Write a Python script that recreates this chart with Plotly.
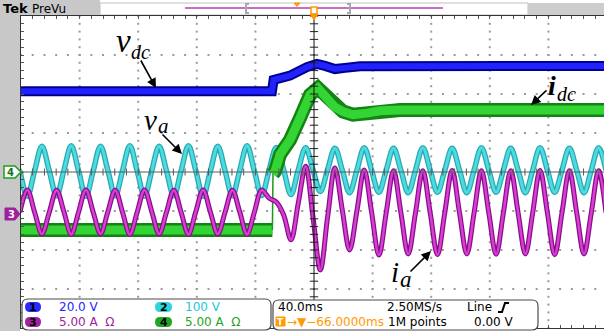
import numpy as np
import plotly.graph_objects as go

# ---------------- readout settings ----------------
CH1_SCALE = "20.0 V"
CH2_SCALE = "100 V"
CH3_SCALE = "5.00 A\u00a0\u00a0\u03a9"
CH4_SCALE = "5.00 A\u00a0\u00a0\u03a9"
TIMEBASE = "40.0ms"
SAMPLE_RATE = "2.50MS/s"
TRIG_SOURCE = "Line"
TRIG_POS = "\u2192\u25bc\u221266.0000ms"
RECORD = "1M points"
TRIG_LEVEL = "0.00 V"

# ---------------- waveforms ----------------
# vertical positions in screen divisions, time in ms from screen centre (40 ms/div)
# ac traces: one sample every quarter cycle of the 50 Hz line
T_START = -200.7
T_STEP = 5.0

va_div = [
    0.03, -0.62, 0.03, 0.66,
    0.03, -0.61, 0.04, 0.67,
    0.03, -0.62, 0.03, 0.66,
    0.04, -0.61, 0.03, 0.67,
    0.03, -0.62, 0.04, 0.66,
    0.03, -0.61, 0.03, 0.67,
    0.04, -0.62, 0.03, 0.66,
    0.03, -0.61, 0.04, 0.67,
    0.03, -0.60, 0.04, 0.63,
    0.05, -0.58, 0.06, 0.62,
    0.06, -0.50, 0.06, 0.61,
    0.05, -0.53, 0.05, 0.62,
    0.05, -0.52, 0.05, 0.61,
    0.05, -0.53, 0.05, 0.62,
    0.05, -0.52, 0.05, 0.61,
    0.05, -0.53, 0.05, 0.62,
    0.05, -0.52, 0.05, 0.61,
    0.05, -0.53, 0.05, 0.62,
    0.05, -0.52, 0.05, 0.61,
    0.05, -0.53, 0.05, 0.62,
    0.05,
]

ia_div = [
    -1.03, -0.46, -1.03, -1.59,
    -1.03, -0.47, -1.02, -1.60,
    -1.03, -0.46, -1.03, -1.59,
    -1.02, -0.47, -1.03, -1.60,
    -1.03, -0.46, -1.02, -1.59,
    -1.03, -0.47, -1.03, -1.60,
    -1.02, -0.46, -1.03, -1.59,
    -1.03, -0.47, -1.02, -1.60,
    -1.03, -0.46, -0.67, -0.77,
    -1.10, -1.74, -0.79, 0.15,
    -1.15, -2.51, -1.15, 0.10,
    -0.97, -2.00, -1.00, 0.05,
    -1.03, -2.13, -1.04, 0.03,
    -1.04, -2.10, -1.04, 0.03,
    -1.04, -2.12, -1.04, 0.04,
    -1.04, -2.10, -1.04, 0.03,
    -1.04, -2.11, -1.04, 0.03,
    -1.04, -2.10, -1.04, 0.04,
    -1.04, -2.12, -1.04, 0.03,
    -1.04, -2.10, -1.04, 0.03,
    -1.04,
]

vdc_t = [-200.7, -28.7, -27.6, -16.4, -4.8, 2.0, 7.5, 14.3, 21.2, 31.4, 199.3]
vdc_div = [2.07, 2.07, 2.36, 2.47, 2.69, 2.77, 2.72, 2.64, 2.67, 2.71, 2.72]

idc_t = [-200.7, -28.4, -28.0, -26.6, -23.2, -16.4, -9.6, -2.7, 2.7, 9.6,
         14.3, 19.8, 26.6, 36.2, 45.1, 58.7, 199.3]
idc_div = [-1.49, -1.49, -0.05, 0.02, 0.45, 0.82, 1.38, 1.98, 2.15, 1.90,
           1.66, 1.55, 1.47, 1.51, 1.57, 1.59, 1.59]

t_ac = T_START + T_STEP * np.arange(len(va_div))

# ---------------- screen geometry ----------------
W, H = 604, 331
PL, PT, PB = 21, 16, 3          # plot-area margins in px
PW, PH = W - PL, H - PT - PB     # 583 x 312
T_LEFT = -200.0
MS_PER_PX = 40.0 / 58.6
T_RIGHT = T_LEFT + PW * MS_PER_PX


def xp(px):
    return (px - PL) / PW


def yp(py):
    return (PT + PH - py) / PH


def pt(px, py):
    return f"{xp(px):.5f},{yp(py):.5f}"


def rrect(x0, y0, x1, y1, r):
    return (f"M {pt(x0 + r, y0)} L {pt(x1 - r, y0)} Q {pt(x1, y0)} {pt(x1, y0 + r)} "
            f"L {pt(x1, y1 - r)} Q {pt(x1, y1)} {pt(x1 - r, y1)} "
            f"L {pt(x0 + r, y1)} Q {pt(x0, y1)} {pt(x0, y1 - r)} "
            f"L {pt(x0, y0 + r)} Q {pt(x0, y0)} {pt(x0 + r, y0)} Z")


def poly(points):
    return "M " + " L ".join(pt(a, b) for a, b in points) + " Z"


fig = go.Figure()

# graticule dots
dot_t, dot_v = [], []
for k in range(1, 10):
    tt = T_LEFT + 40 * k
    if abs(tt) < 1e-9:
        continue
    for m in range(-20, 21):
        dot_t.append(tt)
        dot_v.append(m * 0.2)
for d in (-3, -2, -1, 1, 2, 3):
    for m in range(-25, 25):
        dot_t.append(m * 8)
        dot_v.append(d)
fig.add_trace(go.Scatter(x=dot_t, y=dot_v, mode="markers",
                         marker=dict(symbol="square", size=2, color="#9a9a9a", line=dict(width=0)),
                         hoverinfo="skip", showlegend=False))


def line_trace(x, y, color, width, shape="linear"):
    ln = dict(color=color, width=width, shape=shape)
    if shape == "spline":
        ln["smoothing"] = 1.0
    fig.add_trace(go.Scatter(x=x, y=y, mode="lines", line=ln,
                             hoverinfo="skip", showlegend=False))


# channel 2: va (cyan)
line_trace(t_ac, va_div, "#2aa8b2", 5.5, "spline")
line_trace(t_ac, va_div, "#4cdce0", 3, "spline")

# channel 4: idc (green) - before step, step edge, after step
line_trace(idc_t[:2], idc_div[:2], "#138413", 14)
line_trace(idc_t[:2], idc_div[:2], "#33d433", 9)
line_trace(idc_t[1:3], idc_div[1:3], "#1a9a1a", 1.5)
line_trace(idc_t[2:], idc_div[2:], "#138413", 14)
line_trace(idc_t[2:], idc_div[2:], "#33d433", 9)

# channel 3: ia (magenta)
line_trace(t_ac, ia_div, "#860f86", 5, "spline")
line_trace(t_ac, ia_div, "#d83ed6", 2.5, "spline")

# channel 1: vdc (blue)
line_trace(vdc_t, vdc_div, "#000090", 10)
line_trace(vdc_t, vdc_div, "#2222ff", 6)

# tick marks along the centre cross
fig.add_trace(go.Scatter(x=[0.0] * 41, y=[m * 0.2 for m in range(-20, 21)], mode="markers",
                         marker=dict(symbol="line-ew", size=6, line=dict(width=1, color="#222")),
                         hoverinfo="skip", showlegend=False))
fig.add_trace(go.Scatter(x=[m * 8 for m in range(-25, 25)], y=[0.0] * 50, mode="markers",
                         marker=dict(symbol="line-ns", size=5, line=dict(width=1, color="#555")),
                         hoverinfo="skip", showlegend=False))

GRAY = "#c8c8c8"
ORANGE = "#ff9a00"
shapes = [
    # centre cross
    dict(type="line", xref="x", yref="y", x0=0, x1=0, y0=-4, y1=4,
         line=dict(color="#111", width=1), layer="above"),
    dict(type="line", xref="x", yref="y", x0=T_LEFT, x1=T_RIGHT, y0=0, y1=0,
         line=dict(color="#5a5a5a", width=1), layer="above"),
    # side and top frame
    dict(type="rect", xref="paper", yref="paper", x0=xp(0), x1=xp(20), y0=yp(331), y1=yp(0),
         fillcolor=GRAY, line=dict(width=0), layer="above"),
    dict(type="rect", xref="paper", yref="paper", x0=xp(0), x1=xp(100), y0=yp(15), y1=yp(0),
         fillcolor=GRAY, line=dict(width=0), layer="above"),
    dict(type="rect", xref="paper", yref="paper", x0=xp(100), x1=xp(528), y0=yp(15), y1=yp(3),
         fillcolor="white", line=dict(color="#c0c0c0", width=1), layer="above"),
    dict(type="rect", xref="paper", yref="paper", x0=xp(528), x1=xp(604), y0=yp(15), y1=yp(3),
         fillcolor="#cdcdcd", line=dict(width=0), layer="above"),
    dict(type="line", xref="paper", yref="paper", x0=xp(185), x1=xp(443), y0=yp(8), y1=yp(8),
         line=dict(color="#c86ec8", width=2), layer="above"),
    dict(type="path", xref="paper", yref="paper",
         path=f"M {pt(249, 4)} L {pt(246, 4)} L {pt(246, 13)} L {pt(249, 13)}",
         line=dict(color="#a8a8a8", width=2), layer="above"),
    dict(type="path", xref="paper", yref="paper",
         path=f"M {pt(347, 4)} L {pt(350, 4)} L {pt(350, 13)} L {pt(347, 13)}",
         line=dict(color="#a8a8a8", width=2), layer="above"),
    dict(type="path", xref="paper", yref="paper", path=poly([(294, 3), (300, 3), (297, 6.5)]),
         fillcolor=ORANGE, line=dict(color=ORANGE, width=1), layer="above"),
    dict(type="line", xref="paper", yref="paper", x0=xp(20), x1=xp(604), y0=yp(15.5), y1=yp(15.5),
         line=dict(color="#333", width=1), layer="above"),
    # trigger position marker
    dict(type="rect", xref="paper", yref="paper", x0=xp(311), x1=xp(317), y0=yp(14), y1=yp(7),
         fillcolor="white", line=dict(color=ORANGE, width=1.5), layer="above"),
    dict(type="path", xref="paper", yref="paper", path=poly([(310, 14), (318, 14), (314, 20)]),
         fillcolor=ORANGE, line=dict(color=ORANGE, width=1), layer="above"),
    # channel ground markers
    dict(type="path", xref="paper", yref="paper",
         path=poly([(4, 166), (15, 166), (21, 172), (15, 178), (4, 178)]),
         fillcolor="white", line=dict(color="#1e9e1e", width=1.5), layer="above"),
    dict(type="path", xref="paper", yref="paper",
         path=poly([(5, 208), (15, 208), (20, 214), (15, 220), (5, 220)]),
         fillcolor="#a0209e", line=dict(color="#a0209e", width=1), layer="above"),
    # readout boxes
    dict(type="path", xref="paper", yref="paper", path=rrect(22, 299, 271, 330, 6),
         fillcolor="white", line=dict(color="#4a4a4a", width=1.2), layer="above"),
    dict(type="path", xref="paper", yref="paper", path=rrect(273, 300, 538, 330, 6),
         fillcolor="white", line=dict(color="#4a4a4a", width=1.2), layer="above"),
    # channel badges
    dict(type="path", xref="paper", yref="paper", path=rrect(25, 302, 41, 312, 5),
         fillcolor="#2a2aff", line=dict(width=0), layer="above"),
    dict(type="path", xref="paper", yref="paper", path=rrect(155, 302, 172, 312, 5),
         fillcolor="#2fd3dc", line=dict(width=0), layer="above"),
    dict(type="path", xref="paper", yref="paper", path=rrect(25, 317, 41, 327, 5),
         fillcolor="#a0229e", line=dict(width=0), layer="above"),
    dict(type="path", xref="paper", yref="paper", path=rrect(155, 317, 172, 327, 5),
         fillcolor="#22a622", line=dict(width=0), layer="above"),
    # trigger icon and slope glyph
    dict(type="rect", xref="paper", yref="paper", x0=xp(276), x1=xp(285), y0=yp(326), y1=yp(317),
         fillcolor=ORANGE, line=dict(color=ORANGE, width=1), layer="above"),
    dict(type="path", xref="paper", yref="paper",
         path=f"M {pt(498, 312)} L {pt(502, 312)} L {pt(505, 303)} L {pt(509, 303)}",
         line=dict(color="#000", width=2), layer="above"),
]

ann = []


def txt(px, py, text, color="#000", size=12, family="DejaVu Sans", xanchor="left", yanchor="middle"):
    ann.append(dict(x=xp(px), y=yp(py), xref="paper", yref="paper", text=text, showarrow=False,
                    xanchor=xanchor, yanchor=yanchor, borderpad=0,
                    font=dict(color=color, size=size, family=family)))


def arrow(x_tail, y_tail, x_tip, y_tip):
    ann.append(dict(x=xp(x_tip), y=yp(y_tip), xref="paper", yref="paper", text="",
                    showarrow=True, ax=x_tail - x_tip, ay=y_tail - y_tip,
                    arrowhead=2, arrowsize=1.2, arrowwidth=1.6, arrowcolor="#000"))


# header
txt(2, 8, "<b>Tek</b>", size=13)
txt(31, 8.5, "PreVu", size=12)
# channel marker digits
txt(10.5, 172, "<b>4</b>", color="#157515", size=10, xanchor="center")
txt(11, 214, "<b>3</b>", color="white", size=10, xanchor="center")

# readouts
txt(33, 307, "<b>1</b>", color="#000", size=11, xanchor="center")
txt(163.5, 307, "<b>2</b>", color="#000", size=11, xanchor="center")
txt(33, 322, "<b>3</b>", color="#000", size=11, xanchor="center")
txt(163.5, 322, "<b>4</b>", color="#000", size=11, xanchor="center")
txt(58, 307, CH1_SCALE, color="#2424ff")
txt(184, 307, CH2_SCALE, color="#22c8d4")
txt(58, 322, CH3_SCALE, color="#a0229e")
txt(184, 322, CH4_SCALE, color="#22a622")
txt(277, 307, TIMEBASE)
txt(386, 307, SAMPLE_RATE)
txt(466, 307, TRIG_SOURCE)
txt(280.5, 321.5, "<b>T</b>", color="white", size=9, xanchor="center")
txt(286, 322, TRIG_POS, color=ORANGE)
txt(387, 322, RECORD)
txt(473, 322, TRIG_LEVEL)

# signal labels
SERIF = "Liberation Serif"
txt(115, 41, "<i>v</i>", size=33, family=SERIF)
txt(130, 51.5, "<i>dc</i>", size=20, family=SERIF)
arrow(140, 59, 156, 88)
txt(143, 120, "<i>v</i>", size=29, family=SERIF)
txt(157, 126, "<i>a</i>", size=21, family=SERIF)
arrow(161, 133, 182, 154)
txt(547, 85.5, "<b><i>i</i></b>", size=28, family=SERIF)
txt(556, 93.5, "<i>dc</i>", size=20, family=SERIF)
arrow(548, 89, 531, 105)
txt(390, 272, "<i>i</i>", size=29, family=SERIF)
txt(399, 279, "<i>a</i>", size=23, family=SERIF)
arrow(409, 273, 431, 251)

fig.update_layout(
    width=W, height=H,
    margin=dict(l=PL, r=0, t=PT, b=PB, pad=0),
    paper_bgcolor="white", plot_bgcolor="white",
    showlegend=False,
    xaxis=dict(range=[T_LEFT, T_RIGHT], showgrid=False, zeroline=False,
               showline=True, linecolor="#333", linewidth=1, mirror="ticks",
               ticks="inside", tickvals=[T_LEFT + 8 * i for i in range(50)],
               ticklen=3, tickcolor="#555", showticklabels=False, fixedrange=True),
    yaxis=dict(range=[-4, 4], showgrid=False, zeroline=False,
               showline=True, linecolor="#333", linewidth=1,
               ticks="inside", tickvals=[-4 + 0.2 * i for i in range(41)],
               ticklen=3, tickcolor="#555", showticklabels=False, fixedrange=True),
    shapes=shapes,
    annotations=ann,
)

fig.write_html("out.html", config={"displayModeBar": False})
